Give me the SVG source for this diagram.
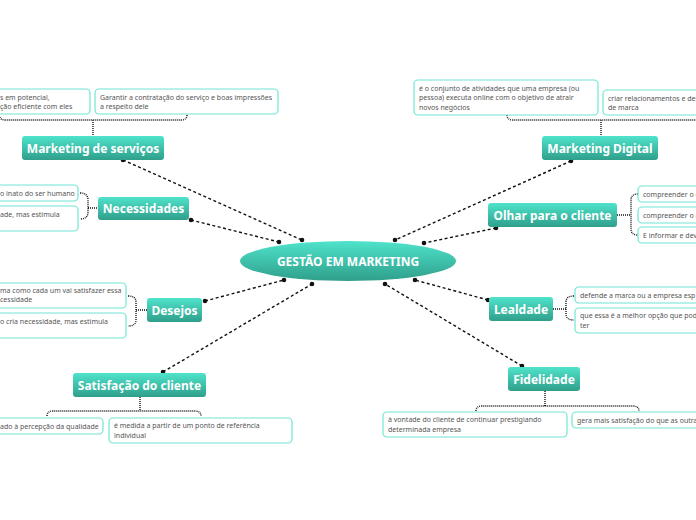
<svg xmlns="http://www.w3.org/2000/svg" width="696" height="520" viewBox="0 0 696 520">
<defs>
<linearGradient id="g" x1="0" y1="0" x2="0" y2="1">
<stop offset="0" stop-color="#4fe3cb"/>
<stop offset="1" stop-color="#2f9f8b"/>
</linearGradient>
<style>
.n{fill:url(#g);}
.nt{font-family:"Noto Sans","Open Sans",sans-serif;font-weight:bold;font-size:12px;fill:#fff;text-anchor:middle;}
.l{fill:#fff;stroke:#6fe6d3;stroke-width:1.2;}
.lt{font-family:"Noto Sans","Open Sans",sans-serif;font-size:7px;fill:#555;}
.c{fill:none;stroke:#111;stroke-width:1.4;stroke-dasharray:3 2.5;}
.b{fill:none;stroke:#111;stroke-width:1.4;stroke-dasharray:1 1;}
.d{fill:#111;}
</style>
</defs>
<rect width="696" height="520" fill="#fff"/>
<g id="connectors">
<line class="c" x1="123" y1="160" x2="302" y2="240"/>
<line class="c" x1="191" y1="220" x2="279" y2="242"/>
<line class="c" x1="205" y1="301" x2="284" y2="280"/>
<line class="c" x1="163" y1="372" x2="312" y2="284"/>
<line class="c" x1="571" y1="161" x2="395" y2="240"/>
<line class="c" x1="496" y1="228" x2="424" y2="243"/>
<line class="c" x1="488" y1="300" x2="415" y2="280"/>
<line class="c" x1="522" y1="366" x2="385" y2="284"/>
<g class="d">
<circle cx="123" cy="160" r="2.3"/><circle cx="302" cy="240" r="2.3"/>
<circle cx="191" cy="220" r="2.3"/><circle cx="279" cy="242" r="2.3"/>
<circle cx="205" cy="301" r="2.3"/><circle cx="284" cy="280" r="2.3"/>
<circle cx="163" cy="372" r="2.3"/><circle cx="312" cy="284" r="2.3"/>
<circle cx="571" cy="161" r="2.3"/><circle cx="395" cy="240" r="2.3"/>
<circle cx="496" cy="228" r="2.3"/><circle cx="424" cy="243" r="2.3"/>
<circle cx="488" cy="300" r="2.3"/><circle cx="415" cy="280" r="2.3"/>
<circle cx="522" cy="366" r="2.3"/><circle cx="385" cy="284" r="2.3"/>
</g>
<path class="b" d="M0 117 Q0 120 6 120 L181 120 Q187 120 187 115 M93 120 L93 136"/>
<path class="b" d="M507 115 Q507 120 513 120 L696 120 M601 120 L601 136"/>
<path class="b" d="M80 193 Q88 193 88 200 L88 212 Q88 219 80 219 M88 208 L98 208"/>
<path class="b" d="M638 194 Q631 194 631 200 L631 229 Q631 235 638 235 M617 215 L631 215"/>
<path class="b" d="M128 296 Q136 296 136 302 L136 320 Q136 326 128 326 M136 310 L147 310"/>
<path class="b" d="M574 296 Q566 296 566 302 L566 314 Q566 320 574 320 M553 309 L566 309"/>
<path class="b" d="M47 416 Q47 411 53 411 L195 411 Q201 411 201 416 M140 397 L140 411"/>
<path class="b" d="M476 411 Q476 406 482 406 L633 406 Q639 406 639 411 M545 391 L545 406"/>
</g>
<g id="center">
<ellipse class="n" cx="348" cy="261" rx="108" ry="20"/>
<text class="nt" x="348" y="266" style="font-size:12px">GESTÃO EM MARKETING</text>
</g>
<g id="n-mserv">
<rect class="n" x="22" y="136" width="142" height="24" rx="3"/>
<text class="nt" x="93" y="152.5">Marketing de serviços</text>
<rect class="l" x="-10" y="89" width="100" height="25" rx="4"/>
<text class="lt" x="0" y="99.5">s em potencial,</text>
<text class="lt" x="0" y="108.5">ção eficiente com eles</text>
<rect class="l" x="95" y="89" width="183" height="25" rx="4"/>
<text class="lt" x="100" y="99.5">Garantir a contratação do serviço e boas impressões</text>
<text class="lt" x="100" y="108.5">a respeito dele</text>
</g>
<g id="n-necess">
<rect class="n" x="98" y="197" width="91" height="23" rx="3"/>
<text class="nt" x="143.5" y="213">Necessidades</text>
<rect class="l" x="-10" y="185" width="88" height="16" rx="4"/>
<text class="lt" x="0" y="195.5">o inato do ser humano</text>
<rect class="l" x="-10" y="206" width="88" height="25" rx="4"/>
<text class="lt" x="0" y="216.5">ade, mas estimula</text>
</g>
<g id="n-desejos">
<rect class="n" x="147" y="298" width="55" height="24" rx="3"/>
<text class="nt" x="174.5" y="314.5">Desejos</text>
<rect class="l" x="-10" y="283" width="136" height="25" rx="4"/>
<text class="lt" x="0" y="293">ma como cada um vai satisfazer essa</text>
<text class="lt" x="0" y="302">cessidade</text>
<rect class="l" x="-10" y="313" width="136" height="25" rx="4"/>
<text class="lt" x="0" y="323.5">o cria necessidade, mas estimula</text>
</g>
<g id="n-satisf">
<rect class="n" x="73" y="373" width="133" height="24" rx="3"/>
<text class="nt" x="139.5" y="389.5">Satisfação do cliente</text>
<rect class="l" x="-10" y="418" width="113" height="16" rx="4"/>
<text class="lt" x="0" y="428.5">ado à percepção da qualidade</text>
<rect class="l" x="109" y="418" width="183" height="25" rx="4"/>
<text class="lt" x="114" y="428">é medida a partir de um ponto de referência</text>
<text class="lt" x="114" y="437.5">individual</text>
</g>
<g id="n-mdig">
<rect class="n" x="542" y="136" width="116" height="24" rx="3"/>
<text class="nt" x="600" y="152.5">Marketing Digital</text>
<rect class="l" x="414" y="80" width="184" height="35" rx="4"/>
<text class="lt" x="419" y="90.5">é o conjunto de atividades que uma empresa (ou</text>
<text class="lt" x="419" y="100">pessoa) executa online com o objetivo de atrair</text>
<text class="lt" x="419" y="109.5">novos negócios</text>
<rect class="l" x="603" y="90" width="100" height="25" rx="4"/>
<text class="lt" x="608" y="100.5">criar relacionamentos e des</text>
<text class="lt" x="608" y="109.5">de marca</text>
</g>
<g id="n-olhar">
<rect class="n" x="488" y="203" width="129" height="24" rx="3"/>
<text class="nt" x="552.5" y="219.5">Olhar para o cliente</text>
<rect class="l" x="638" y="186" width="66" height="16" rx="4"/>
<text class="lt" x="643" y="196.5">compreender o c</text>
<rect class="l" x="638" y="207" width="66" height="16" rx="4"/>
<text class="lt" x="643" y="217.5">compreender o c</text>
<rect class="l" x="638" y="227" width="66" height="16" rx="4"/>
<text class="lt" x="643" y="237.5">E informar e dev</text>
</g>
<g id="n-lealdade">
<rect class="n" x="489" y="297" width="64" height="24" rx="3"/>
<text class="nt" x="521" y="313.5">Lealdade</text>
<rect class="l" x="575" y="287" width="128" height="16" rx="4"/>
<text class="lt" x="580" y="297.5">defende a marca ou a empresa esp</text>
<rect class="l" x="575" y="308" width="128" height="25" rx="4"/>
<text class="lt" x="580" y="318">que essa é a melhor opção que pod</text>
<text class="lt" x="580" y="327.5">ter</text>
</g>
<g id="n-fidel">
<rect class="n" x="508" y="367" width="72" height="24" rx="3"/>
<text class="nt" x="544" y="383.5">Fidelidade</text>
<rect class="l" x="383" y="412" width="184" height="25" rx="4"/>
<text class="lt" x="388" y="422">à vontade do cliente de continuar prestigiando</text>
<text class="lt" x="388" y="431.5">determinada empresa</text>
<rect class="l" x="572" y="412" width="130" height="16" rx="4"/>
<text class="lt" x="577" y="422.5">gera mais satisfação do que as outra</text>
</g>
</svg>
